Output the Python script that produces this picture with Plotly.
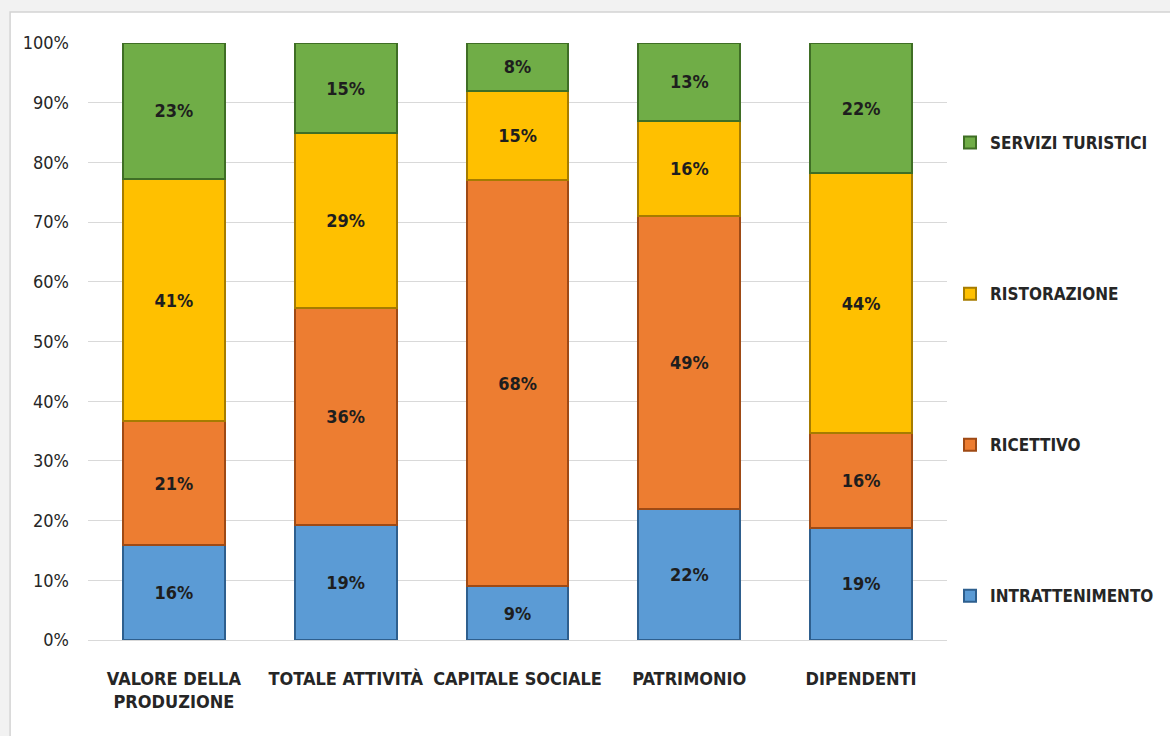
import plotly.graph_objects as go

categories = ["VALORE DELLA<br>PRODUZIONE", "TOTALE ATTIVITÀ", "CAPITALE SOCIALE", "PATRIMONIO", "DIPENDENTI"]
intrattenimento = [16, 19, 9, 22, 19]
ricettivo = [21, 36, 68, 49, 16]
ristorazione = [41, 29, 15, 16, 44]
servizi_turistici = [23, 15, 8, 13, 22]

series = [
    ("INTRATTENIMENTO", intrattenimento, "#5B9BD5", "#2E5F8E"),
    ("RICETTIVO", ricettivo, "#ED7D31", "#9E4A15"),
    ("RISTORAZIONE", ristorazione, "#FFC000", "#A67C00"),
    ("SERVIZI TURISTICI", servizi_turistici, "#70AD47", "#3F6E25"),
]

FONT = "Liberation Sans Narrow, Arial Narrow, DejaVu Sans Condensed, sans-serif"

L, R, T, B = 88, 222, 43, 96
PW, PH = 1170 - L - R, 736 - T - B

fig = go.Figure()
for i, (name, vals, col, edge) in enumerate(series):
    fig.add_trace(go.Bar(
        x=categories, y=vals, name=name,
        marker=dict(color=col, line=dict(color=edge, width=2)),
        text=[f"{v}%" for v in vals], textposition="inside", insidetextanchor="middle",
        textfont=dict(family=FONT, size=18, color="#1e1e1e", weight="bold"),
        legendgroup=name, legendrank=len(series) - i,
    ))

fig.update_layout(
    barmode="stack", barnorm="percent", bargap=0.407,
    width=1170, height=736,
    margin=dict(l=L, r=R, t=T, b=B),
    paper_bgcolor="#f2f2f2", plot_bgcolor="white",
    font=dict(family=FONT, size=17, color="#262626"),
    showlegend=True,
    legend=dict(
        x=1 + 2 / PW, xanchor="left", y=1 - (125 - T) / PH, yanchor="top",
        traceorder="grouped", tracegroupgap=126,
        font=dict(family=FONT, size=17, color="#262626", weight="bold"),
        itemwidth=30, bgcolor="rgba(0,0,0,0)",
    ),
    shapes=[dict(type="rect", xref="paper", yref="paper",
                 x0=-(L - 10) / PW, x1=1 + (R + 5) / PW, y0=-(B + 5) / PH, y1=1 + (T - 12) / PH,
                 fillcolor="white", line=dict(color="#d4d4d4", width=1.5), layer="below")],
)
fig.update_yaxes(range=[0, 100], dtick=10, ticksuffix="%", showgrid=True, gridcolor="#d9d9d9",
                 zeroline=False, showline=False, ticks="", ticklabelstandoff=18, automargin=False,
                 tickfont=dict(family=FONT, size=18, color="#262626"))
fig.update_xaxes(showline=True, linecolor="#d9d9d9", ticks="", ticklabelstandoff=22,
                 tickangle=0, automargin=False,
                 tickfont=dict(family=FONT, size=18, color="#262626", weight="bold"))

fig.write_html("out.html")
